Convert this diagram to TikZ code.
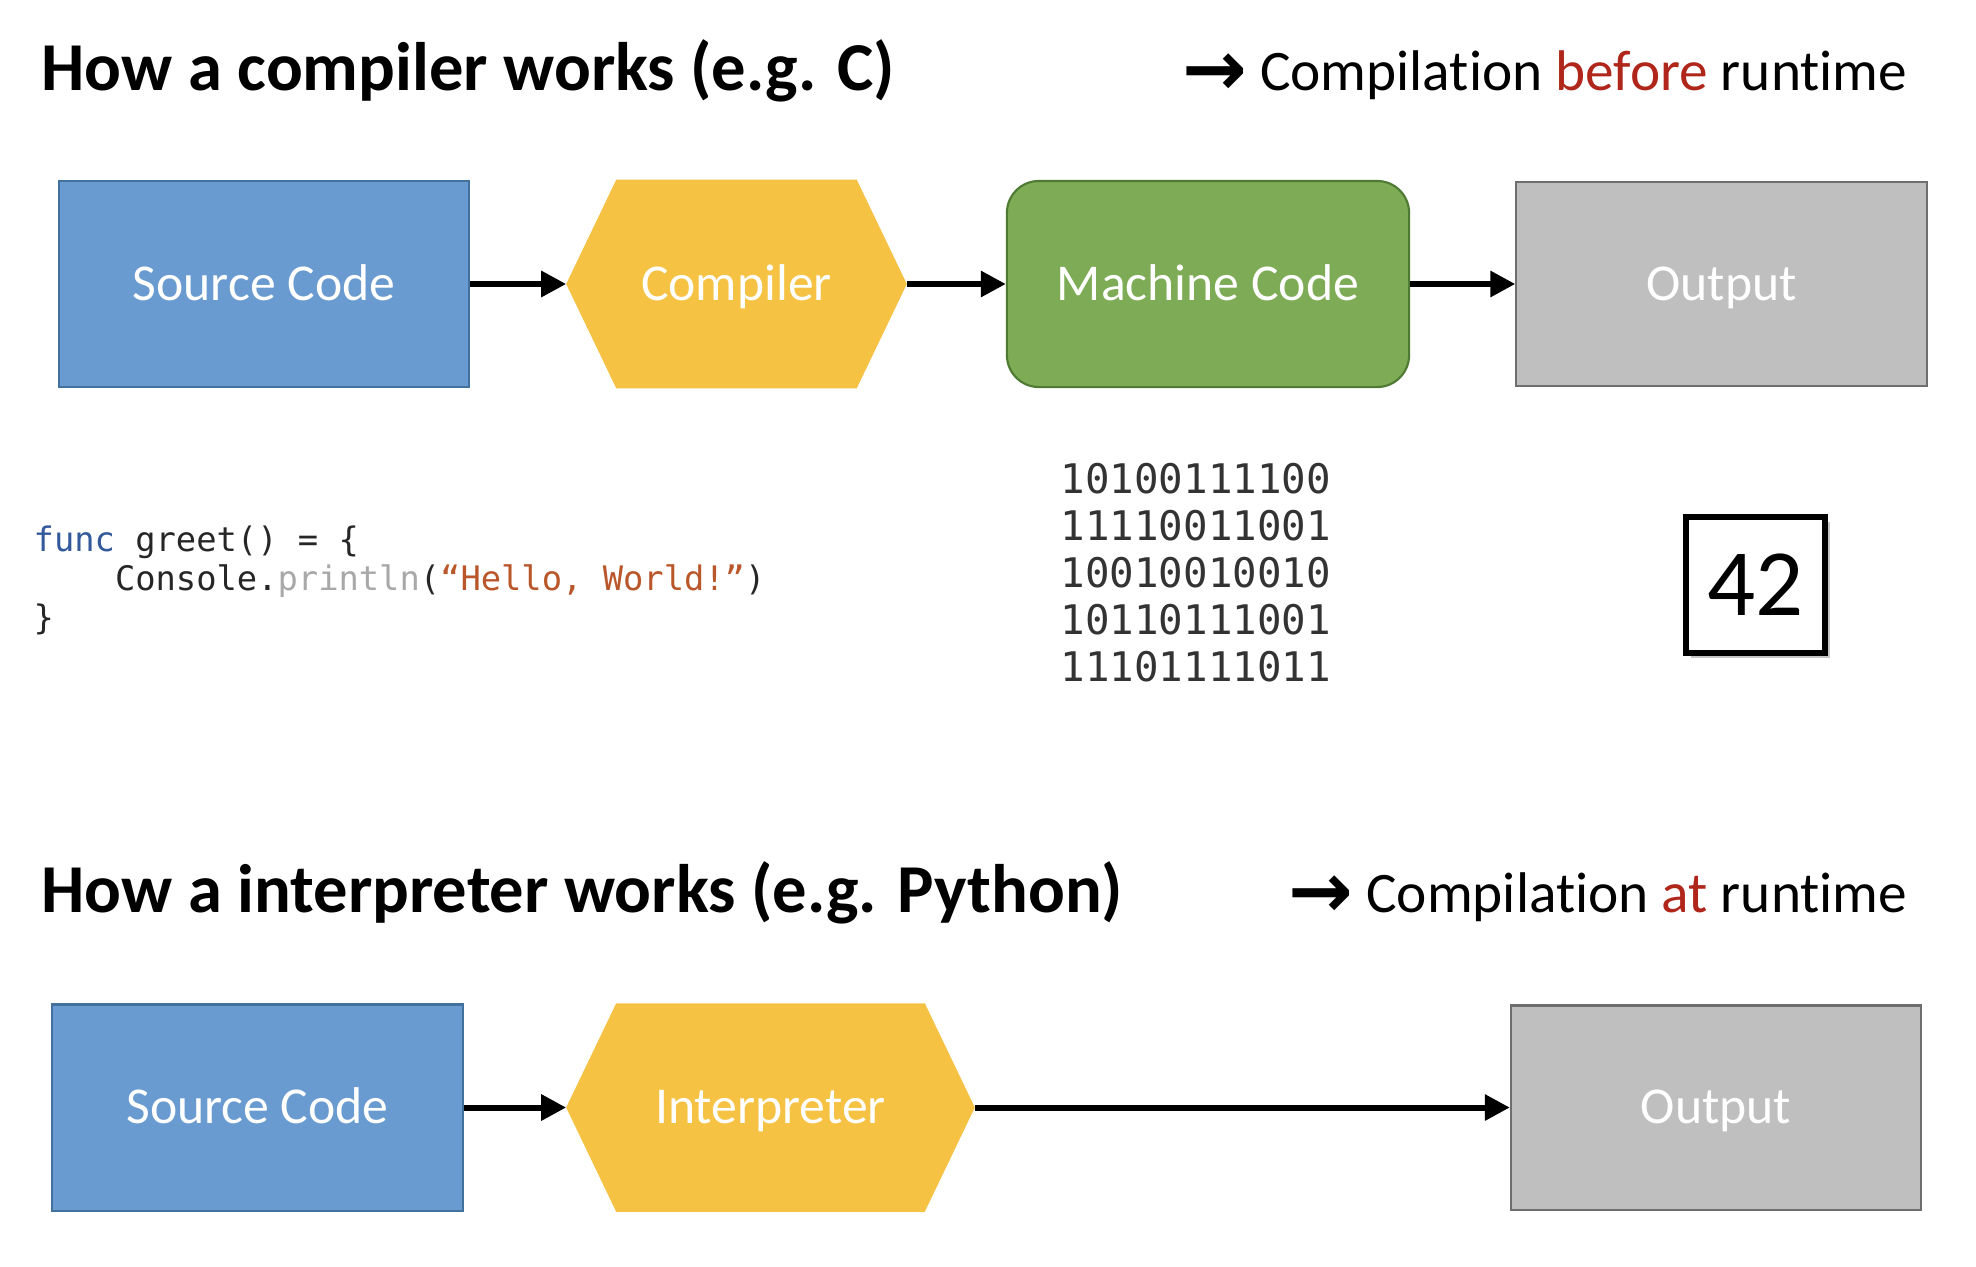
\documentclass[tikz,border=0pt]{standalone}
\usepackage{fontspec}
\setmainfont{Carlito}[Ligatures=NoCommon]
\newfontfamily\codefont{DejaVu Sans Mono}
\newfontfamily\symfont{DejaVu Sans}
\usetikzlibrary{arrows.meta,backgrounds,shadows}

\definecolor{srcblue}{HTML}{6A9BD0}
\definecolor{srcedge}{HTML}{41719C}
\definecolor{hexyellow}{HTML}{F5C243}
\definecolor{mcgreen}{HTML}{7EAB55}
\definecolor{mcedge}{HTML}{4F7A33}
\definecolor{outgray}{HTML}{BFBFBF}
\definecolor{outedge}{HTML}{6E6E6E}
\definecolor{hotred}{HTML}{B0261B}
\definecolor{kwblue}{HTML}{33599A}
\definecolor{fngray}{HTML}{A8A8A8}
\definecolor{strbrown}{HTML}{B9572B}

\newcommand{\goesto}{{\symfont\bfseries\fontsize{22}{22}\selectfont\raisebox{-1.5pt}{→}}}

\tikzset{
  stage/.style={minimum height=2.06cm, inner sep=0pt, text=white, font=\fontsize{14.7}{17}\selectfont, text height=9.3pt, text depth=0pt},
  srcbox/.style={stage, draw=srcedge, fill=srcblue, line width=0.6pt, minimum width=4.1cm},
  hexbox/.style={stage, minimum height=2.07cm},
  mcbox/.style={stage, draw=mcedge, fill=mcgreen, line width=0.6pt, rounded corners=0.32cm, minimum width=4.02cm},
  outbox/.style={stage, draw=outedge, fill=outgray, line width=0.6pt, minimum width=4.1cm, minimum height=2.04cm},
  flow/.style={line width=0.06cm, -{Triangle[length=0.25cm,width=0.25cm]}},
  heading/.style={anchor=base west, inner sep=0pt, font=\bfseries\fontsize{19.5}{23}\selectfont},
  remark/.style={anchor=base east, inner sep=0pt, font=\fontsize{16.3}{20}\selectfont},
  codeline/.style={anchor=base west, inner sep=0pt, font=\codefont\fontsize{9.6}{11}\selectfont, text=black!85},
  bitline/.style={anchor=base west, inner sep=0pt, font=\codefont\fontsize{11.6}{14}\selectfont, text=black!80},
}

\begin{document}
\begin{tikzpicture}[x=0.01cm,y=-0.01cm]
\useasboundingbox (0,0) rectangle (1976,1266);

% compiler
\node[heading] (title1) at (41,90) {How a compiler works (e.g. C)};
\node[remark] (note1) at (1908,90) {\goesto\ Compilation \textcolor{hotred}{before} runtime};

\node[srcbox] (src1) at (264,284) {Source Code};
\node[hexbox, minimum width=3.39cm] (comp) at (736.5,284) {Compiler};
\node[mcbox] (mach) at (1208,284) {Machine Code};
\node[outbox] (out1) at (1721.5,284) {Output};

\draw[flow] (src1.east) -- (comp.west);
\draw[flow] (comp.east) -- (mach.west);
\draw[flow] (mach.east) -- (out1.west);

\node[codeline] (code1) at (33,551) {\textcolor{kwblue}{func} greet() = \{};
\node[codeline] (code2) at (33,590) {\hphantom{func}Console.\textcolor{fngray}{println}(\textcolor{strbrown}{“Hello, World!”})};
\node[codeline] (code3) at (33,629) {\}};

\foreach \bits [count=\i] in {10100111100,11110011001,10010010010,10110111001,11101111011}
  \node[bitline] (bits\i) at (1060,{446+47*\i}) {\bits};

\node[draw, fill=white, line width=0.055cm, minimum width=1.39cm, minimum height=1.36cm,
  drop shadow={shadow xshift=0.05cm, shadow yshift=-0.05cm, fill=black!45},
  font=\fontsize{27}{30}\selectfont] (answer) at (1755.5,585) {42};

% interpreter
\node[heading] (title2) at (41,912) {How a interpreter works (e.g. Python)};
\node[remark] (note2) at (1908,912) {\goesto\ Compilation \textcolor{hotred}{at} runtime};

\node[srcbox] (src2) at (257.5,1107.5) {Source Code};
\node[hexbox, minimum width=4.07cm] (interp) at (770.5,1107.5) {Interpreter};
\node[outbox] (out2) at (1716,1107.5) {Output};

\draw[flow] (src2.east) -- (interp.west);
\draw[flow] (interp.east) -- (out2.west);

\begin{scope}[on background layer]
\fill[hexyellow] (comp.west) -- ([xshift=0.5cm]comp.north west) -- ([xshift=-0.5cm]comp.north east)
  -- (comp.east) -- ([xshift=-0.5cm]comp.south east) -- ([xshift=0.5cm]comp.south west) -- cycle;
\fill[hexyellow] (interp.west) -- ([xshift=0.5cm]interp.north west) -- ([xshift=-0.5cm]interp.north east)
  -- (interp.east) -- ([xshift=-0.5cm]interp.south east) -- ([xshift=0.5cm]interp.south west) -- cycle;
\end{scope}
\end{tikzpicture}
\end{document}
